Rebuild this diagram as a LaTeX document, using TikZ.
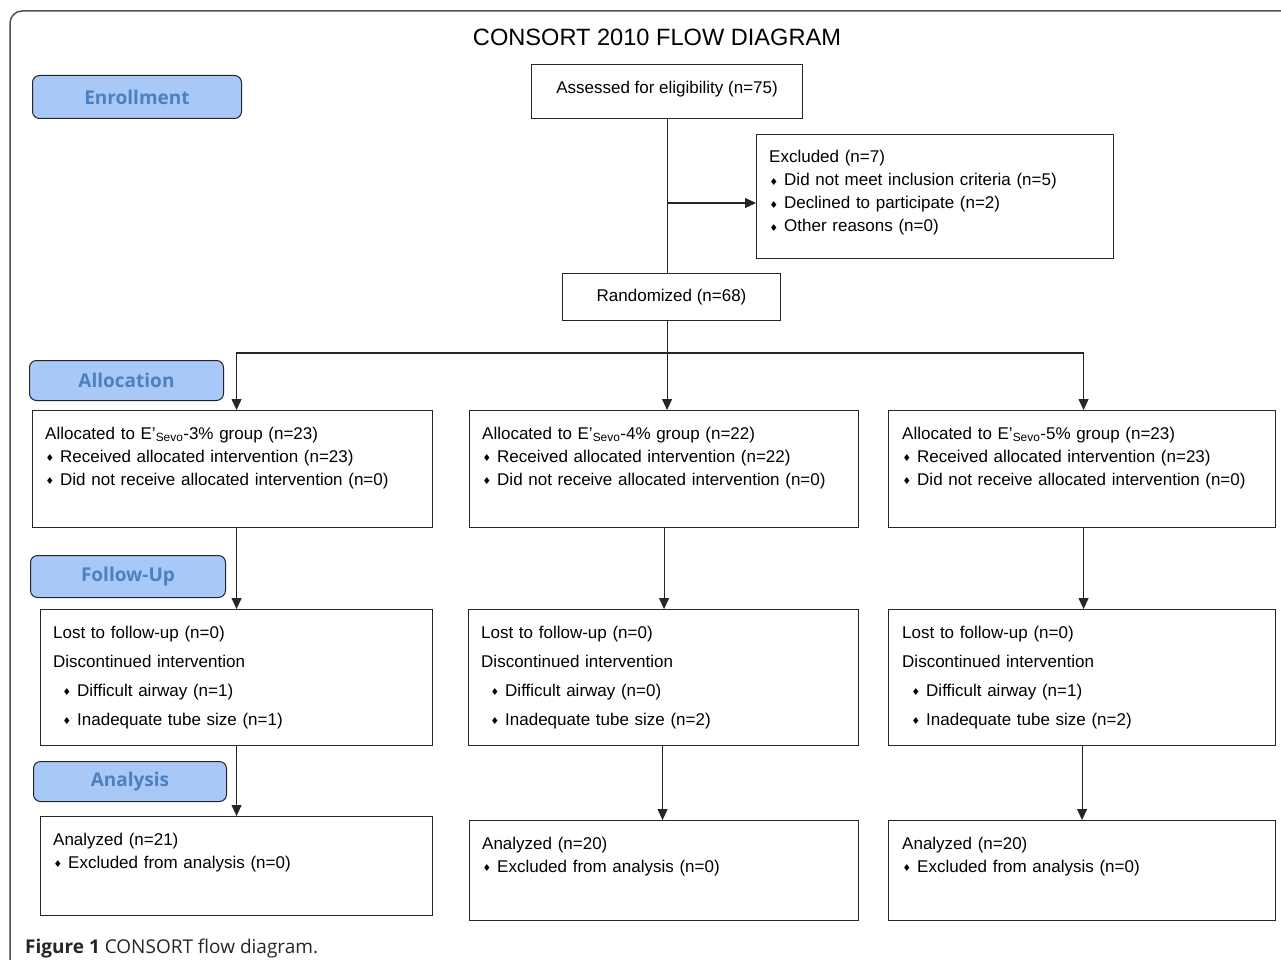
\documentclass[tikz,border=0pt]{standalone}
\usepackage{fontspec}
\setmainfont{Liberation Sans}
\newfontfamily\osans{Open Sans}
\newfontfamily\dejavu{DejaVu Sans}
\usetikzlibrary{arrows.meta,calc}
\definecolor{lblfill}{HTML}{A8C8F8}
\definecolor{lbltext}{HTML}{4D80BE}
\definecolor{framecol}{HTML}{505050}
\newcommand\dmd{\makebox[15pt][l]{\hspace{0.5pt}\raisebox{0.5pt}{\dejavu\fontsize{9.5}{9.5}\selectfont ♦}}}
\newcommand\esevo{E’\textsubscript{Sevo}}
\begin{document}
\begin{tikzpicture}[x=1pt,y=-1pt,
  box/.style={draw=black!85, line width=1.1pt, inner sep=0pt, anchor=north west},
  txt/.style={anchor=base west, inner sep=0pt, align=left, text width=370pt, font=\fontsize{17}{23}\selectfont},
  txtf/.style={txt, font=\fontsize{17}{29}\selectfont},
  ctxt/.style={box, font=\fontsize{17}{23}\selectfont},
  lbl/.style={draw=black!85, line width=1pt, fill=lblfill, rounded corners=7pt, inner sep=0pt, anchor=north west, text=lbltext, font=\osans\bfseries\fontsize{19}{19}\selectfont},
  arr/.style={draw=black!85, line width=1.1pt, -{Triangle[length=11pt,width=10pt]}},
  ln/.style={draw=black!85, line width=1.1pt}]
\useasboundingbox (0,0) rectangle (1281,960);
\clip (0,0) rectangle (1281,960);
\fill[white] (0,0) rectangle (1281,960);
% frame
\draw[framecol, line width=1.5pt, rounded corners=12pt] (10,1100) -- (10,11) -- (1400,11);

% title
\node[font=\fontsize{23.6}{23.6}\selectfont] (title) at (657,37) {CONSORT 2010 FLOW DIAGRAM};

% phase labels
\node[lbl, minimum width=209pt, minimum height=43pt] (lenr) at (32,75) {Enrollment};
\node[lbl, minimum width=194pt, minimum height=40pt] (lall) at (29,360) {\raisebox{-2pt}{Allocation}};
\node[lbl, minimum width=195pt, minimum height=42pt] (lfol) at (30,555) {\raisebox{-2pt}{Follow-Up}};
\node[lbl, minimum width=193pt, minimum height=40pt] (lana) at (33,761) {\raisebox{-2pt}{Analysis}};

% enrollment
\node[ctxt, minimum width=271pt, minimum height=54pt] (assess) at (531,64) {Assessed for eligibility (n=75)\raisebox{0pt}[0pt][8pt]{}};
\node[box, minimum width=357pt, minimum height=124pt] (excl) at (756,134) {};
\node[txt] at ([shift={(13,29)}]excl.north west) {Excluded (n=7)\\\dmd Did not meet inclusion criteria (n=5)\\\dmd Declined to participate (n=2)\\\dmd Other reasons (n=0)};
\node[ctxt, minimum width=218pt, minimum height=47pt] (rand) at (562,273) {Randomized (n=68)};

% allocation
\node[box, minimum width=400pt, minimum height=117pt] (A1) at (32,410) {};
\node[box, minimum width=389pt, minimum height=117pt] (A2) at (469,410) {};
\node[box, minimum width=387pt, minimum height=117pt] (A3) at (888,410) {};
\node[txt] at ([shift={(13,29)}]A1.north west) {Allocated to \esevo-3\% group (n=23)\\\dmd Received allocated intervention (n=23)\\\dmd Did not receive allocated intervention (n=0)};
\node[txt] at ([shift={(13,29)}]A2.north west) {Allocated to \esevo-4\% group (n=22)\\\dmd Received allocated intervention (n=22)\\\dmd Did not receive allocated intervention (n=0)};
\node[txt] at ([shift={(14,29)}]A3.north west) {Allocated to \esevo-5\% group (n=23)\\\dmd Received allocated intervention (n=23)\\\dmd Did not receive allocated intervention (n=0)};

% follow-up
\node[box, minimum width=392pt, minimum height=136pt] (F1) at (40,609) {};
\node[box, minimum width=390pt, minimum height=136pt] (F2) at (468,609) {};
\node[box, minimum width=387pt, minimum height=136pt] (F3) at (888,609) {};
\node[txtf] at ([shift={(13,29)}]F1.north west) {Lost to follow-up (n=0)\\Discontinued intervention\\\hspace{9pt}\dmd Difficult airway (n=1)\\\hspace{9pt}\dmd Inadequate tube size (n=1)};
\node[txtf] at ([shift={(13,29)}]F2.north west) {Lost to follow-up (n=0)\\Discontinued intervention\\\hspace{9pt}\dmd Difficult airway (n=0)\\\hspace{9pt}\dmd Inadequate tube size (n=2)};
\node[txtf] at ([shift={(14,29)}]F3.north west) {Lost to follow-up (n=0)\\Discontinued intervention\\\hspace{9pt}\dmd Difficult airway (n=1)\\\hspace{9pt}\dmd Inadequate tube size (n=2)};

% analysis
\node[box, minimum width=392pt, minimum height=99pt] (N1) at (40,816) {};
\node[box, minimum width=389pt, minimum height=100pt] (N2) at (469,820) {};
\node[box, minimum width=387pt, minimum height=100pt] (N3) at (888,820) {};
\node[txt] at ([shift={(13,29)}]N1.north west) {Analyzed (n=21)\\\dmd Excluded from analysis (n=0)};
\node[txt] at ([shift={(13,29)}]N2.north west) {Analyzed (n=20)\\\dmd Excluded from analysis (n=0)};
\node[txt] at ([shift={(14,29)}]N3.north west) {Analyzed (n=20)\\\dmd Excluded from analysis (n=0)};

% connectors
\coordinate (branch) at (assess.south |- 0,203);
\draw[ln] (assess.south) -- (assess.south |- rand.north);
\draw[arr] (branch) -- (branch -| excl.west);
\coordinate (split) at (assess.south |- 0,353);
\draw[ln] (assess.south |- rand.south) -- (split);
\draw[arr] (split) -| ([xshift=4pt]A1.north);
\draw[arr] (split) -- (split |- A2.north);
\draw[arr] (split) -| ([xshift=1.5pt]A3.north);
\draw[arr] ([xshift=4pt]A1.south) -- ([xshift=4pt]A1.south |- F1.north);
\draw[arr] (A2.south) -- (A2.south |- F2.north);
\draw[arr] ([xshift=1.5pt]A3.south) -- ([xshift=1.5pt]A3.south |- F3.north);
\draw[arr] ([xshift=4pt]A1.south |- F1.south) -- ([xshift=4pt]A1.south |- N1.north);
\draw[arr] ([xshift=-1pt]F2.south) -- ([xshift=-1pt]F2.south |- N2.north);
\draw[arr] ([xshift=0pt]F3.south) -- ([xshift=0pt]F3.south |- N3.north);

% caption
\node[anchor=base west, inner sep=0pt, text=black!85, font=\osans\fontsize{19}{19}\selectfont] (cap) at (25,953) {\textbf{Figure 1} CONSORT flow diagram.};
\end{tikzpicture}
\end{document}
